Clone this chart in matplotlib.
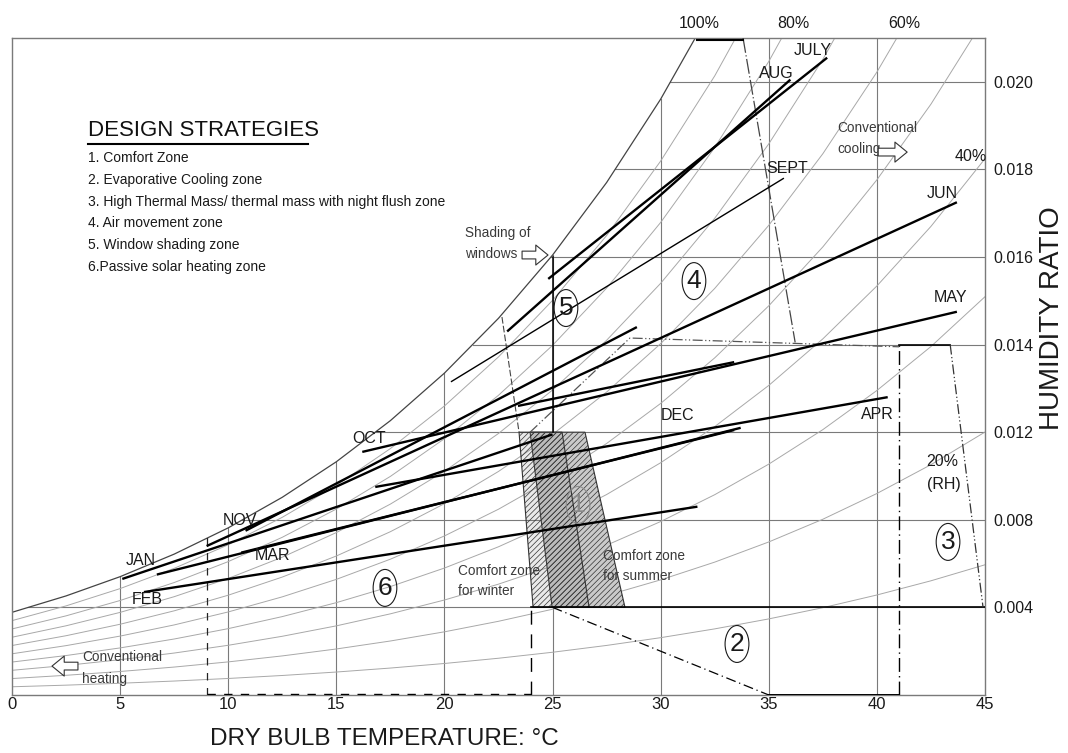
import numpy as np
import matplotlib.pyplot as plt
from matplotlib.patches import Polygon

plt.rcParams['font.family'] = ['Liberation Sans', 'DejaVu Sans']
plt.rcParams['hatch.linewidth'] = 0.5

# saturation vapour pressure (kPa) from steam tables, every 2.5 C
temps = [0, 2.5, 5, 7.5, 10, 12.5, 15, 17.5, 20, 22.5, 25, 27.5, 30, 32.5, 35, 37.5, 40, 42.5, 45]
p_sat = [0.6113, 0.7317, 0.8726, 1.0371, 1.2282, 1.4497, 1.7058, 2.0006, 2.3392, 2.7268,
         3.1698, 3.6738, 4.2467, 4.8945, 5.6290, 6.4538, 7.3849, 8.4244, 9.5950]
p_atm = 101.325
rh_levels = [0.1, 0.2, 0.3, 0.4, 0.5, 0.6, 0.7, 0.8, 0.9, 1.0]

# monthly lines: (min temp, humidity ratio) -> (max temp, humidity ratio)
months = ['JAN', 'FEB', 'MAR', 'APR', 'MAY', 'JUN', 'JULY', 'AUG', 'SEPT', 'OCT', 'NOV', 'DEC']
t_min = [5.1, 6.1, 10.6, 16.8, 16.2, 9.0, 24.8, 22.9, 20.3, 23.4, 10.8, 6.7]
w_min = [0.0053, 0.0047, 0.0065, 0.0095, 0.0111, 0.0068, 0.0190, 0.0166, 0.0143, 0.0132, 0.0075, 0.0055]
t_max = [25.0, 31.7, 33.4, 40.5, 43.7, 43.7, 37.7, 36.0, 35.7, 33.4, 28.9, 33.7]
w_max = [0.0119, 0.0086, 0.0121, 0.0136, 0.0175, 0.0225, 0.0291, 0.0281, 0.0236, 0.0152, 0.0168, 0.0122]

x_ticks = [0, 5, 10, 15, 20, 25, 30, 35, 40, 45]
y_ticks = [0.004, 0.008, 0.012, 0.016, 0.020, 0.024, 0.028]
y_tick_labels = ['0.004', '0.008', '0.012', '0.014', '0.016', '0.018', '0.020']

strategies = ['1. Comfort Zone',
              '2. Evaporative Cooling zone',
              '3. High Thermal Mass/ thermal mass with night flush zone',
              '4. Air movement zone',
              '5. Window shading zone',
              '6.Passive solar heating zone']

# comfort zones (temp, humidity ratio)
winter_zone = [(23.45, 0.012), (25.44, 0.012), (26.69, 0.004), (24.10, 0.004)]
summer_zone = [(23.96, 0.012), (26.50, 0.012), (28.35, 0.004), (24.98, 0.004)]

temps = np.array(temps)
p_sat = np.array(p_sat)
w_sat = 0.622 * p_sat / (p_atm - p_sat)

fig = plt.figure(figsize=(10.68, 7.53), dpi=100)
ax = fig.add_axes([12 / 1068, 58 / 753, 973 / 1068, 657 / 753])
ax.set_xlim(0, 45)
ax.set_ylim(0, 0.030)

# grid bounded by the saturation curve
for t in x_ticks[1:-1]:
    top = min(np.interp(t, temps, w_sat), 0.030)
    ax.plot([t, t], [0, top], color='#7a7a7a', lw=0.8, zorder=1)
for w in y_ticks:
    t0 = np.interp(w, w_sat, temps)
    ax.plot([t0, 45], [w, w], color='#7a7a7a', lw=0.8, zorder=1)

# relative humidity curves
for rh in rh_levels:
    w = 0.622 * rh * p_sat / (p_atm - rh * p_sat)
    if rh == 1.0:
        ax.plot(temps, w, color='#444444', lw=0.9, zorder=1)
    else:
        ax.plot(temps, w, color='#a8a8a8', lw=0.7, zorder=1)

# comfort zones
ax.add_patch(Polygon(summer_zone, closed=True, facecolor='#cacaca', edgecolor='#333333',
                     hatch='//////', lw=0.8, zorder=2))
ax.add_patch(Polygon(winter_zone, closed=True, facecolor=(0.4, 0.4, 0.4, 0.14), edgecolor='#333333',
                     hatch='//////', lw=0.8, zorder=2))

# zone boundaries
ax.plot([24.0, 45], [0.004, 0.004], color='black', lw=1.2, zorder=3)
ax.plot([35, 41.03], [0, 0], color='black', lw=1.4, zorder=3)
ax.plot([25, 35], [0.004, 0], color='black', lw=0.9, ls=(0, (8, 3, 1, 3)), zorder=3)
ax.plot([41.03, 41.03], [0, 0.016], color='black', lw=1.0, ls=(0, (10, 3, 1, 3)), zorder=3)
ax.plot([41.03, 43.39], [0.016, 0.016], color='black', lw=1.2, zorder=3)
ax.plot([23.96, 28.58, 41.03], [0.012, 0.0163, 0.0159], color='#555555', lw=0.9,
        ls=(0, (8, 2, 1, 2, 1, 2)), zorder=3)
ax.plot([43.39, 44.91], [0.016, 0.004], color='#333333', lw=0.9, ls=(0, (8, 2, 1, 2, 1, 2)), zorder=3)
ax.plot([33.81, 36.22], [0.030, 0.0161], color='#444444', lw=0.9, ls=(0, (12, 2, 1, 2)), zorder=3)
ax.plot([31.7, 33.81], [0.0299, 0.0299], color='black', lw=1.5, zorder=3)
ax.plot([25, 25], [0.012, 0.020], color='black', lw=1.1, zorder=3)
ax.plot([22.66, 23.45], [0.01726, 0.012], color='#444444', lw=0.8, ls=(0, (6, 2)), zorder=3)
ax.plot([9.02, 9.02], [0, 0.0072], color='#222222', lw=0.9, ls=(0, (6, 6)), zorder=3)
ax.plot([9.02, 24.0], [0.00005, 0.00005], color='black', lw=1.0, ls=(0, (6, 6)), zorder=3)
ax.plot([24.0, 24.0], [0, 0.004], color='black', lw=1.0, ls=(0, (10, 7)), zorder=3)

# monthly lines
for i, m in enumerate(months):
    lw = 1.0 if m == 'SEPT' else 1.7
    ax.plot([t_min[i], t_max[i]], [w_min[i], w_max[i]], color='black', lw=lw,
            solid_capstyle='butt', zorder=4)

month_pos = {'JULY': (37.05, 0.02941), 'AUG': (35.34, 0.0284), 'SEPT': (35.85, 0.02402),
             'JUN': (43.02, 0.02292), 'MAY': (43.43, 0.01813), 'APR': (40.01, 0.01283),
             'DEC': (30.80, 0.01274), 'OCT': (16.51, 0.01173), 'NOV': (10.55, 0.00799),
             'MAR': (12.07, 0.00639), 'JAN': (5.97, 0.00616), 'FEB': (6.24, 0.00434)}
for m in months:
    x, y = month_pos[m]
    ax.text(x, y, m, fontsize=11.5, ha='center', va='center', color='#1a1a1a', zorder=5)

# circled zone numbers
zone_pos = [(26.18, 0.00868), (33.53, 0.00233), (43.29, 0.00699),
            (31.54, 0.0189), (25.62, 0.01767), (17.25, 0.00489)]
for k, (x, y) in enumerate(zone_pos):
    col = '#8a8a8a' if k == 0 else '#1a1a1a'
    ax.text(x, y, str(k + 1), fontsize=19, ha='center', va='center', color=col, zorder=5,
            bbox=dict(boxstyle='ellipse,pad=0.04', fc='none', ec=col, lw=0.8))

# annotations
txt = dict(fontsize=9.8, color='#3a3a3a', va='center', zorder=5)
ax.text(20.63, 0.00566, 'Comfort zone', **txt)
ax.text(20.63, 0.00475, 'for winter', **txt)
ax.text(27.34, 0.00635, 'Comfort zone', **txt)
ax.text(27.34, 0.00543, 'for summer', **txt)
ax.text(20.95, 0.02109, 'Shading of', **txt)
ax.text(20.95, 0.02014, 'windows', **txt)
ax.text(38.16, 0.02589, 'Conventional', **txt)
ax.text(38.16, 0.02493, 'cooling', **txt)
ax.text(3.24, 0.00174, 'Conventional', **txt)
ax.text(3.24, 0.00073, 'heating', **txt)
ax.text(43.02, 0.01068, '20%', fontsize=11.5, ha='center', va='center', color='#1a1a1a')
ax.text(43.10, 0.00959, '(RH)', fontsize=11.5, ha='center', va='center', color='#1a1a1a')
ax.text(44.36, 0.02461, '40%', fontsize=11.5, ha='center', va='center', color='#1a1a1a')
for lab, x in [('100%', 31.78), ('80%', 36.12), ('60%', 41.26)]:
    ax.text(x, 0.03068, lab, fontsize=11.5, ha='center', va='center', color='#1a1a1a', clip_on=False)

arrow = dict(arrowstyle='simple,head_length=0.55,head_width=0.9,tail_width=0.35',
             fc='white', ec='#333333', lw=0.8, mutation_scale=16, shrinkA=0, shrinkB=0)
ax.annotate('', xy=(24.79, 0.02009), xytext=(23.59, 0.02009), arrowprops=arrow, zorder=5)
ax.annotate('', xy=(41.40, 0.02479), xytext=(40.06, 0.02479), arrowprops=arrow, zorder=5)
ax.annotate('', xy=(1.85, 0.00132), xytext=(3.05, 0.00132), arrowprops=arrow, zorder=5)

# legend block
fig.text(88 / 1068, 1 - 130 / 753, 'DESIGN STRATEGIES', fontsize=16, va='center', color='#111111')
fig.add_artist(plt.Line2D([88 / 1068, 308 / 1068], [1 - 144 / 753, 1 - 144 / 753],
                          color='black', lw=1.5))
for k, s in enumerate(strategies):
    fig.text(88 / 1068, 1 - (158 + 21.8 * k) / 753, s, fontsize=10, va='center', color='#1a1a1a')

# axes styling
ax.set_xticks(x_ticks)
ax.set_xticklabels([str(v) for v in x_ticks], fontsize=12)
ax.yaxis.tick_right()
ax.set_yticks(y_ticks)
ax.set_yticklabels(y_tick_labels, fontsize=11.5)
ax.tick_params(length=0, colors='#1a1a1a')
ax.tick_params(axis='x', pad=1.5)
ax.tick_params(axis='y', pad=6)
for sp in ax.spines.values():
    sp.set_color('#7a7a7a')
    sp.set_linewidth(1.0)

fig.text(384 / 1068, 1 - 739 / 753, 'DRY BULB TEMPERATURE: \u00b0C', fontsize=17.5,
         ha='center', va='center', color='#1a1a1a')
fig.text(1052 / 1068, 1 - 318 / 753, 'HUMIDITY RATIO', fontsize=20, rotation=90,
         ha='center', va='center', color='#1a1a1a')

fig.savefig('out.png', dpi=100)
